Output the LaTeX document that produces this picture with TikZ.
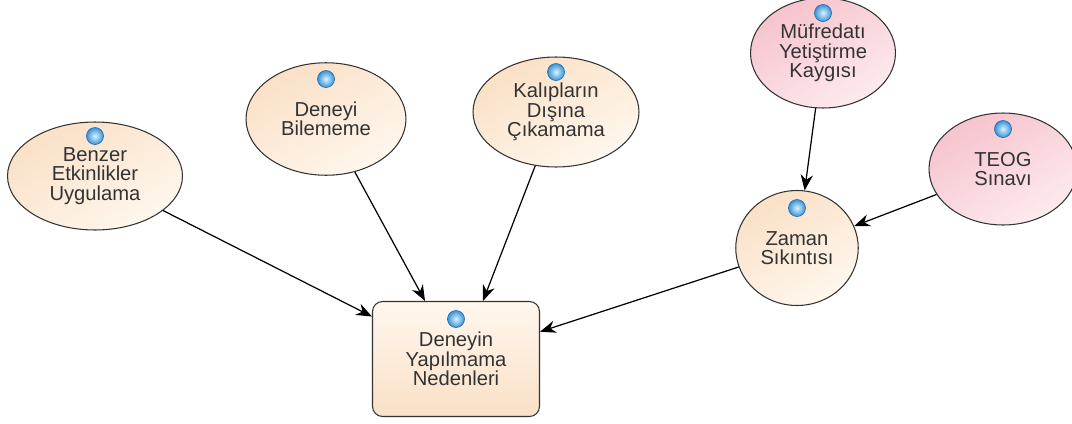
\documentclass[tikz,border=0pt]{standalone}
\usepackage{fontspec}
\setmainfont{Liberation Sans}
\usetikzlibrary{shapes.geometric,arrows.meta}
\definecolor{peach}{HTML}{FAE0C6}
\definecolor{cream}{HTML}{FFF7EE}
\definecolor{rose}{HTML}{F6C3CD}
\definecolor{roselight}{HTML}{FDEBEE}
\definecolor{txtgray}{HTML}{333333}
\definecolor{iconlight}{HTML}{D8F4FF}
\definecolor{iconblue}{HTML}{3A92D6}
\definecolor{iconrim}{HTML}{2A6FB0}
\begin{document}
\begin{tikzpicture}[x=0.02cm,y=-0.02cm,>={Stealth[length=9pt,width=7pt]},font=\fontsize{11.5}{11}\selectfont,
	box/.style={draw=black!80,line width=0.6pt,align=center,text=txtgray,inner sep=2pt},
	elli/.style={box,ellipse,top color=peach,bottom color=cream,shading angle=30},
	pinkelli/.style={box,ellipse,top color=rose,bottom color=roselight,shading angle=30},
	icon/.style={inner color=iconlight,outer color=iconblue,draw=iconrim,line width=0.4pt},
	arr/.style={->,line width=0.7pt}]
	\useasboundingbox (0,0) rectangle (1072,423);
	\node[box,rounded corners=0.2cm,top color=cream,bottom color=peach,minimum width=3.34cm,minimum height=2.3cm] (neden) at (456,359) {Deneyin\\Yapılmama\\Nedenleri};
	\node[elli,minimum width=3.5cm,minimum height=2.16cm] (benzer) at (95,176) {Benzer\\Etkinlikler\\Uygulama};
	\node[elli,minimum width=3.2cm,minimum height=2.25cm] (deneyi) at (326,119) {Deneyi\\Bilememe};
	\node[elli,minimum width=3.32cm,minimum height=2.2cm] (kalip) at (556,112) {Kalıpların\\Dışına\\Çıkamama};
	\node[pinkelli,minimum width=2.9cm,minimum height=2.2cm] (mufredat) at (823,53) {Müfredatı\\Yetiştirme\\Kaygısı};
	\node[pinkelli,minimum width=2.96cm,minimum height=2.24cm] (teog) at (1003,169) {TEOG\\Sınavı};
	\node[elli,minimum width=2.45cm,minimum height=2.3cm] (zaman) at (797,248) {Zaman\\Sıkıntısı};
	% icons
	\foreach \n in {neden,benzer,deneyi,kalip,mufredat,teog,zaman}
		\shade[icon] ([yshift=0.8cm]\n.center) circle (0.17cm);
	% links
	\draw[arr] (benzer) -- (neden);
	\draw[arr] (deneyi) -- ([xshift=-0.62cm]neden.north);
	\draw[arr] (kalip) -- ([xshift=0.54cm]neden.north);
	\draw[arr] (zaman) -- (neden);
	\draw[arr] (mufredat) -- (zaman);
	\draw[arr] (teog) -- (zaman);
\end{tikzpicture}
\end{document}
